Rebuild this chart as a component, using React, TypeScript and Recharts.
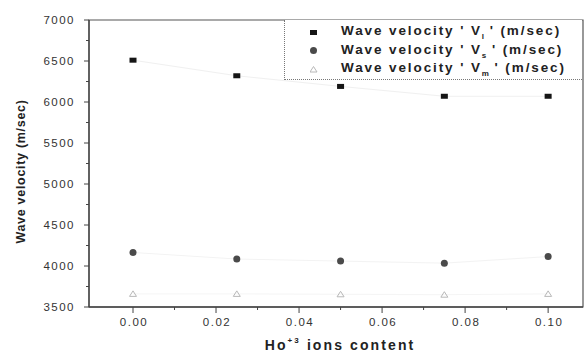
import React from "react";
import { ComposedChart, Scatter, XAxis, YAxis, ReferenceArea, Legend } from "recharts";

const content = [0, 0.025, 0.05, 0.075, 0.1];
const vl = [6510, 6320, 6190, 6070, 6070];
const vs = [4165, 4085, 4060, 4035, 4115];
const vm = [3660, 3660, 3655, 3650, 3660];
const xTicks = [0, 0.01, 0.02, 0.03, 0.04, 0.05, 0.06, 0.07, 0.08, 0.09, 0.1];
const yTicks = [3500, 3750, 4000, 4250, 4500, 4750, 5000, 5250, 5500, 5750, 6000, 6250, 6500, 6750, 7000];
const legendNames = [
  { base: "Wave velocity ' V", sub: "l", tail: "' (m/sec)" },
  { base: "Wave velocity ' V", sub: "s", tail: "' (m/sec)" },
  { base: "Wave velocity ' V", sub: "m", tail: "' (m/sec)" },
];

const mk = (ys: number[]) => content.map((x, i) => ({ x, y: ys[i] }));
const dataL = mk(vl);
const dataS = mk(vs);
const dataM = mk(vm);

const FONT = "'Liberation Sans', Arial, sans-serif";

const SquareShape = (p: any) => (
  <rect x={p.cx - 3.5} y={p.cy - 2.5} width={7} height={5} fill="#151515" />
);
const CircleShape = (p: any) => <circle cx={p.cx} cy={p.cy} r={3.5} fill="#4a4a4a" />;
const TriShape = (p: any) => (
  <path
    d={`M${p.cx - 3.5},${p.cy + 2.5} L${p.cx + 3.5},${p.cy + 2.5} L${p.cx},${p.cy - 3} Z`}
    fill="none"
    stroke="#b8b8b8"
    strokeWidth={1}
  />
);

const YTick = (p: any) => {
  const v = p.payload.value;
  const major = v % 500 === 0;
  return (
    <g>
      <line x1={p.x} x2={p.x - (major ? 5 : 3)} y1={p.y} y2={p.y} stroke="#444" strokeWidth={1} />
      {major && (
        <text x={p.x - 14} y={p.y + 4} textAnchor="end" fontFamily={FONT} fontSize={11.5} letterSpacing={1.5} fill="#333">
          {v}
        </text>
      )}
    </g>
  );
};

const XTick = (p: any) => {
  const v = p.payload.value;
  const major = Math.round(v * 100) % 2 === 0;
  return (
    <g>
      <line x1={p.x} x2={p.x} y1={p.y} y2={p.y + (major ? 6 : 3)} stroke="#444" strokeWidth={1} />
      {major && (
        <text x={p.x + 1} y={p.y + 19} textAnchor="middle" fontFamily={FONT} fontSize={11.5} letterSpacing={1.5} fill="#333">
          {v.toFixed(2)}
        </text>
      )}
    </g>
  );
};

const YLabel = (p: any) => {
  const vb = p.viewBox;
  const cx = vb.x + 25;
  const cy = vb.y + vb.height / 2 + 8;
  return (
    <text x={cx} y={cy} transform={`rotate(-90 ${cx} ${cy})`} textAnchor="middle" fontFamily={FONT} fontSize={12.5} fontWeight="bold" letterSpacing={0.7} fill="#222">
      Wave velocity  (m/sec)
    </text>
  );
};

const XLabel = (p: any) => {
  const vb = p.viewBox;
  const cx = vb.x + vb.width / 2 + 4;
  const cy = vb.y + 43;
  return (
    <text x={cx} y={cy} textAnchor="middle" fontFamily={FONT} fontSize={14} fontWeight="bold" fill="#222" letterSpacing={2.1}>
      Ho<tspan fontSize={8} dy={-7}>+3</tspan>
      <tspan dy={7}> ions content</tspan>
    </text>
  );
};

const markers = [
  <rect key="a" x={0} y={2} width={7} height={5} fill="#151515" />,
  <circle key="b" cx={3.5} cy={4.5} r={3.5} fill="#4a4a4a" />,
  <path key="c" d="M0,7 L7,7 L3.5,1.5 Z" fill="none" stroke="#b8b8b8" />,
];

const LegendBox = () => (
  <div
    style={{
      width: 298,
      height: 60,
      borderLeft: "1px dotted #777",
      borderBottom: "1px dotted #777",
      background: "#fff",
      boxSizing: "border-box",
      fontFamily: FONT,
      fontWeight: "bold",
      fontSize: 13.5,
      color: "#222",
      letterSpacing: 1.9,
      paddingTop: 3,
    }}
  >
    {legendNames.map((n, i) => (
      <div key={i} style={{ display: "flex", alignItems: "center", height: 18.5 }}>
        <svg width={8} height={9} style={{ marginLeft: 25, marginRight: 23 }}>
          {markers[i]}
        </svg>
        <span style={{ whiteSpace: "nowrap" }}>
          {n.base}
          <sub style={{ fontSize: 8, verticalAlign: -4, letterSpacing: 0, color: "#222" }}>{n.sub}</sub> {n.tail}
        </span>
      </div>
    ))}
  </div>
);

export default function App() {
  return (
    <div style={{ position: "absolute", left: 0, top: 0, background: "#fff" }}>
      <ComposedChart width={588} height={354} margin={{ top: 20, right: 5, bottom: 0, left: 0 }}>
        <XAxis
          dataKey="x"
          type="number"
          domain={[-0.0106, 0.1084]}
          allowDataOverflow
          ticks={xTicks}
          interval={0}
          tickSize={0}
          tickMargin={0}
          tickLine={false}
          tick={<XTick />}
          height={47}
          axisLine={{ stroke: "#444", strokeWidth: 1.3 }}
          label={<XLabel />}
        />
        <YAxis
          type="number"
          domain={[3500, 7000]}
          allowDataOverflow
          ticks={yTicks}
          interval={0}
          tickSize={0}
          tickMargin={0}
          tickLine={false}
          tick={<YTick />}
          width={89}
          axisLine={{ stroke: "#444", strokeWidth: 1.3 }}
          label={<YLabel />}
        />
        <ReferenceArea x1={-0.0106} x2={0.1084} y1={3500} y2={7000} fill="none" stroke="#555" strokeWidth={1.2} ifOverflow="visible" />
        <Scatter data={dataL} dataKey="y" line={{ stroke: "#f0f0f0", strokeWidth: 1 }} shape={SquareShape} isAnimationActive={false} legendType="none" />
        <Scatter data={dataS} dataKey="y" line={{ stroke: "#f3f3f3", strokeWidth: 1 }} shape={CircleShape} isAnimationActive={false} legendType="none" />
        <Scatter data={dataM} dataKey="y" line={{ stroke: "#f5f5f5", strokeWidth: 1 }} shape={TriShape} isAnimationActive={false} legendType="none" />
        <Legend
          layout="vertical"
          align="center"
          verticalAlign="middle"
          content={<LegendBox />}
          wrapperStyle={{ position: "absolute", top: 20, left: 284, width: 298, height: 60 }}
        />
      </ComposedChart>
    </div>
  );
}
